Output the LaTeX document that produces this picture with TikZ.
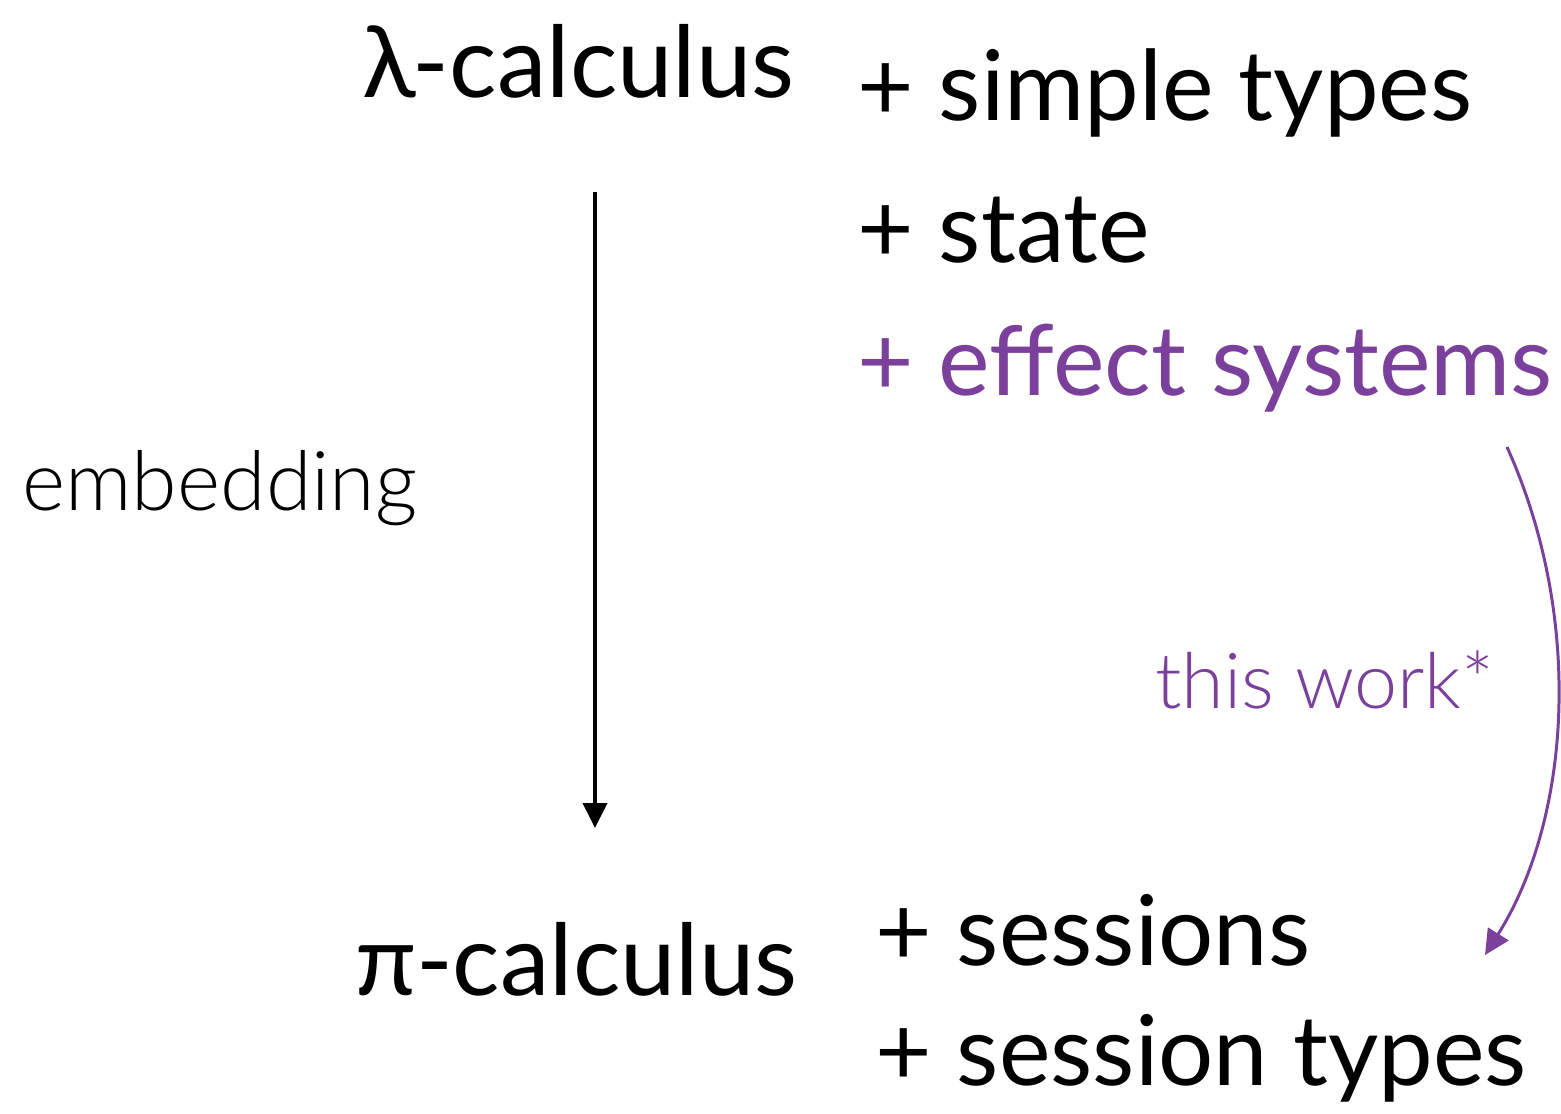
\documentclass[tikz,border=0pt]{standalone}
\usepackage{fontspec}
\setmainfont{Lato}
\newfontfamily\lightfont{Lato}[UprightFont=* Light]
\usetikzlibrary{arrows.meta}
\definecolor{workpurple}{RGB}{122,64,155}
\begin{document}
\begin{tikzpicture}[x=0.02cm,y=-0.02cm,
  big/.style={anchor=base west,inner sep=0pt,font=\fontsize{55.5}{62}\selectfont},
  calc/.style={big,font=\fontsize{56.5}{62}\selectfont},
  thin/.style={anchor=base west,inner sep=0pt,font=\lightfont\fontsize{47}{54}\selectfont}]
\useasboundingbox (0,0) rectangle (1561,1113);
\node[calc] (lam) at (362,97) {λ-calculus};
\node[big] (simple) at (857,120) {+ simple types};
\node[big] (state) at (857,262) {+ state};
\node[big,text=workpurple] (effect) at (857,395) {+ effect systems};
\node[thin] (embed) at (22,510) {embedding};
\node[thin,text=workpurple,font=\lightfont\fontsize{44}{50}\selectfont] (work) at (1155,708) {this work*};
\node[calc] (pi) at (355,995) {π-calculus};
\node[big] (sessions) at (875,965) {+ sessions};
\node[big] (sesstypes) at (875,1085) {+ session types};
\coordinate (embtop) at (595,192);
\coordinate (embbot) at (595,828);
\coordinate (worktop) at (1507,447);
\coordinate (workbot) at (1485,955);
\draw[line width=2.2pt,-{Triangle[length=0.5cm,width=0.48cm]}] (embtop) -- (embbot);
\draw[workpurple,line width=1.7pt,-{Triangle[length=0.5cm,width=0.48cm]}]
  (worktop) .. controls (1585,620) and (1570,820) .. (workbot);
\end{tikzpicture}
\end{document}
